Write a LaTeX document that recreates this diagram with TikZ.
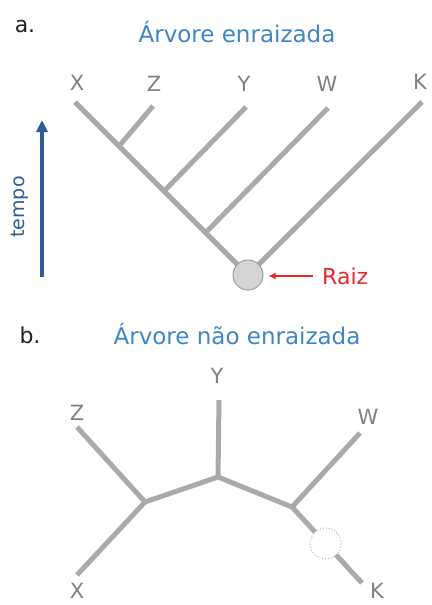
\documentclass[tikz,border=0pt]{standalone}
\usepackage{fontspec}
\setmainfont{DejaVu Sans}
\usetikzlibrary{arrows.meta,calc}
\definecolor{branch}{HTML}{AAAAAA}
\definecolor{titleblue}{HTML}{3D87C8}
\definecolor{timeblue}{HTML}{2F5B94}
\definecolor{rootred}{HTML}{E52A2E}
\definecolor{labelgray}{HTML}{808080}
\definecolor{partblack}{HTML}{222222}
\begin{document}
\begin{tikzpicture}[x=1pt,y=-1pt,
  branchline/.style={draw=branch,line width=5pt},
  leaf/.style={font=\fontsize{21}{21}\selectfont,text=labelgray,inner sep=0pt},
  ttl/.style={font=\fontsize{23}{23}\selectfont,text=titleblue,inner sep=0pt,anchor=base},
  partlabel/.style={font=\fontsize{22}{22}\selectfont,text=partblack,inner sep=0pt,anchor=base},
  redarrow/.style={draw=rootred,line width=2pt,-{Latex[length=7pt,width=7pt]}},
  timearrow/.style={draw=timeblue,line width=4pt,-{Triangle[length=12pt,width=11pt]}}]
\useasboundingbox (0,0) rectangle (431,605);
\fill[white] (0,0) rectangle (431,605);

% ---------- part a ----------
\node[partlabel] (pa) at (25,32) {a.};
\node[ttl] (ta) at (237,42) {Árvore enraizada};

\coordinate (root) at (248,275);
\coordinate (Xa) at (75,102);
\coordinate (Za) at (153,106);
\coordinate (Ya) at (246,107);
\coordinate (Wa) at (328,108);
\coordinate (Ka) at (422,102);
\coordinate (jz) at ($(root)!0.745!(Xa)$);
\coordinate (jy) at ($(root)!0.485!(Xa)$);
\coordinate (jw) at ($(root)!0.245!(Xa)$);

\draw[branchline] (Xa) -- (root) -- (Ka);
\draw[branchline] (jz) -- (Za);
\draw[branchline] (jy) -- (Ya);
\draw[branchline] (jw) -- (Wa);

\node[circle,draw=gray!75,fill=black!17,line width=1pt,minimum size=30pt,inner sep=0pt] (rootc) at (root) {};

\node[leaf,anchor=base] (lXa) at (77,90) {X};
\node[leaf,anchor=base] (lZa) at (154,91) {Z};
\node[leaf,anchor=base] (lYa) at (244,91) {Y};
\node[leaf,anchor=base] (lWa) at (327,91) {W};
\node[leaf,anchor=base] (lKa) at (420,89) {K};

\node[font=\fontsize{22}{22}\selectfont,text=rootred,inner sep=0pt,anchor=west] (raiz) at (322,276) {Raiz};
\draw[redarrow,shorten <=9pt,shorten >=5pt] (raiz.west) -- (rootc.east |- raiz.west);

\coordinate (tbot) at (42,277);
\coordinate (ttop) at (42,120);
\draw[timearrow] (tbot) -- (ttop);
\node[rotate=90,font=\fontsize{19}{19}\selectfont,text=timeblue,inner sep=0pt] (tempo) at (20,207) {tempo};

% ---------- part b ----------
\node[partlabel] (pb) at (30,343) {b.};
\node[ttl] (tbt) at (237,344) {Árvore não enraizada};

\coordinate (C) at (218,477);
\coordinate (L) at (145,502);
\coordinate (R) at (292,507);
\coordinate (Yb) at (219,400);
\coordinate (Zb) at (77,427);
\coordinate (Xb) at (77,575);
\coordinate (Wb) at (360,433);
\coordinate (Kb) at (362,583);

\draw[branchline,line join=round] (L) -- (C) -- (R);
\draw[branchline] (C) -- (Yb);
\draw[branchline] (L) -- (Zb);
\draw[branchline] (L) -- (Xb);
\draw[branchline] (R) -- (Wb);
\draw[branchline] (R) -- (Kb);

\node[circle,draw=gray!70,dotted,fill=white,line width=0.9pt,minimum size=31pt,inner sep=0pt] (oldroot) at ($(R)!0.48!(Kb)$) {};

\node[leaf] (lYb) at (217,376) {Y};
\node[leaf] (lZb) at (77,413) {Z};
\node[leaf] (lWb) at (368,417) {W};
\node[leaf] (lXb) at (77,591) {X};
\node[leaf] (lKb) at (377,591) {K};
\end{tikzpicture}
\end{document}
